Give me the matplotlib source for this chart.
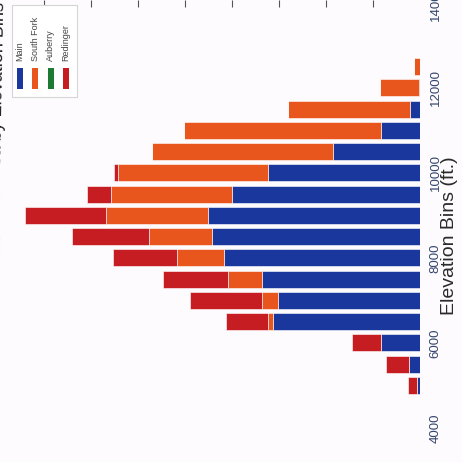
import numpy as np
import matplotlib
matplotlib.use("Agg")
import matplotlib.pyplot as plt
from matplotlib.patches import Rectangle

"""
Stacked area by elevation bin, drawn sideways like the scanned page.
"""

# elevation bins (ft.), low to high
elevation_bins = [5000, 5500, 6000, 6500, 7000, 7500, 8000, 8500,
                  9000, 9500, 10000, 10500, 11000, 11500, 12000, 12500]

main_values = [0.6, 2.3, 8.3, 31.3, 30.2, 33.6, 41.7, 44.3,
               45.1, 40.0, 32.3, 18.5, 8.3, 2.1, 0.2, 0.0]
south_fork_values = [0.0, 0.0, 0.0, 1.1, 3.4, 7.2, 10.0, 13.4,
                     21.7, 25.7, 31.9, 38.5, 41.9, 26.0, 8.3, 1.3]
auberry_values = [0.0] * 16
redinger_values = [1.9, 4.9, 6.2, 8.9, 15.3, 13.8, 13.6, 16.4,
                   17.2, 5.1, 0.9, 0.0, 0.0, 0.0, 0.0, 0.0]

series_names = ["Main", "South Fork", "Auberry", "Redinger"]
series_colors = ["#1a379e", "#e9561d", "#1d7a33", "#c61d22"]

elevation_ticks = [4000, 6000, 8000, 10000, 12000, 14000]
value_ticks = [10, 20, 30, 40, 50, 60, 70, 80]

W, H = 462, 462
BG = "#fdfbfd"


def px(x, y):
    # pixel coords (from top-left) -> figure fraction
    return x / W, 1 - y / H


def main() -> None:
    plt.rcParams['font.family'] = ['Liberation Sans', 'DejaVu Sans']

    fig = plt.figure(figsize=(W / 100, H / 100), dpi=100, facecolor=BG)
    ax = fig.add_axes([0, 0, 420 / W, 1])
    ax.set_facecolor(BG)

    all_series = [main_values, south_fork_values, auberry_values, redinger_values]
    left = np.zeros(len(elevation_bins))
    for vals, name, color in zip(all_series, series_names, series_colors):
        ax.barh(elevation_bins, vals, left=left, height=400, color=color,
                edgecolor="white", linewidth=0.4, label=name)
        left += np.array(vals)

    ax.set_xlim(420 / 4.7, 0)
    ax.set_ylim(3200, 14070)
    for s in ax.spines.values():
        s.set_visible(False)

    # faint ticks along the (cut off) top edge
    ax.xaxis.tick_top()
    ax.set_xticks(value_ticks)
    ax.tick_params(axis='x', direction='in', length=5, width=0.8,
                   colors='#555555', labeltop=False)

    ax.yaxis.tick_right()
    ax.set_yticks(elevation_ticks)
    ax.set_yticklabels([str(t) for t in elevation_ticks])
    ax.tick_params(axis='y', length=0, pad=7, labelsize=9.5, labelcolor='#34466e')
    for lab in ax.get_yticklabels():
        lab.set_rotation(90)
        lab.set_verticalalignment('center')
        lab.set_horizontalalignment('left')

    ax.yaxis.set_label_position('right')
    ax.set_ylabel('Elevation Bins (ft.)', fontsize=14, color='#2a2a2a')
    ax.yaxis.set_label_coords(449 / 420, 1 - 236 / H)
    ax.yaxis.label.set_verticalalignment('center')
    ax.yaxis.label.set_rotation(90)

    # title, mostly cut off at the left edge of the scan
    fig.text(*px(-3, 2), 'Watershed Area by Elevation Bins', rotation=88.9,
             ha='center', va='top', fontsize=13, color='#222222')

    # sideways legend
    x0, y0 = px(12, 97)
    x1, y1 = px(77, 5)
    fig.patches.append(Rectangle((x0, y0), x1 - x0, y1 - y0, transform=fig.transFigure,
                                 facecolor='white', edgecolor='#d6d6d6', linewidth=0.8))
    for i, (name, color) in enumerate(zip(series_names, series_colors)):
        cx = 20 + 15.4 * i
        rx, ry = px(cx - 3, 89)
        fig.patches.append(Rectangle((rx, ry), 6 / W, 21 / H, transform=fig.transFigure,
                                     facecolor=color, edgecolor='none'))
        fig.text(*px(cx, 61), name, rotation=90, ha='center', va='bottom',
                 fontsize=6.5, color='#444444')

    fig.savefig('out.png', dpi=100, facecolor=BG)


if __name__ == "__main__":
    main()
